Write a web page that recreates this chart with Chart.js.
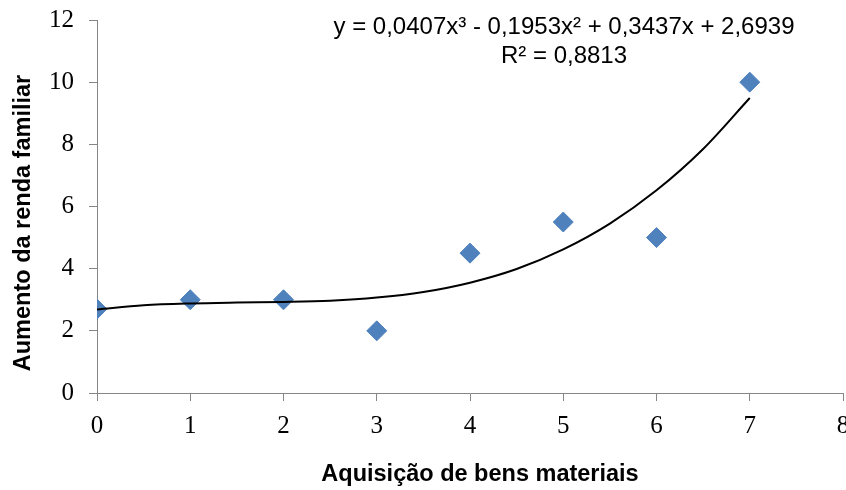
<!DOCTYPE html>
<html>
<head>
<meta charset="utf-8">
<script src="https://cdn.jsdelivr.net/npm/chart.js@4"></script>
<style>
  html, body { margin: 0; padding: 0; background: #fff; }
  #wrap { width: 846px; height: 490px; }
</style>
</head>
<body>
<div id="wrap"><canvas id="chart" width="846" height="490"></canvas></div>
<script>
// pontos observados
const bens = [0, 1, 2, 3, 4, 5, 6, 7];
const renda = [2.7, 3, 3, 2, 4.5, 5.5, 5, 10];

// linha de tendência (polinomial)
const trendX = [0, 0.5, 1, 1.5, 2, 2.5, 3, 3.5, 4, 4.5, 5, 5.5, 6, 6.5, 7];
const trendY = [2.69, 2.82, 2.88, 2.91, 2.93, 2.97, 3.07, 3.25, 3.55, 3.99, 4.62, 5.45, 6.52, 7.85, 9.49];

const equacao = ['y = 0,0407x³ - 0,1953x² + 0,3437x + 2,6939', 'R² = 0,8813'];
const tituloX = 'Aquisição de bens materiais';
const tituloY = 'Aumento da renda familiar';

const axisGray = '#868686';
const tickFont = { family: '"Liberation Serif", "Times New Roman", serif', size: 25 };

// equação da tendência e títulos dos eixos (posição igual ao Excel)
const textPlugin = {
    id: 'textos',
    afterDraw(chart) {
        const ctx = chart.ctx;
        ctx.save();
        ctx.fillStyle = '#000';
        ctx.textAlign = 'center';
        ctx.textBaseline = 'middle';

        ctx.font = '24px "Liberation Sans", Arial, sans-serif';
        ctx.fillText(equacao[0], 564, 27);
        ctx.fillText(equacao[1], 564, 56);

        ctx.font = 'bold 23.5px "Liberation Sans", Arial, sans-serif';
        ctx.fillText(tituloX, 480, 475);

        ctx.translate(24, 223);
        ctx.rotate(-Math.PI / 2);
        ctx.fillText(tituloY, 0, 0);
        ctx.restore();
    }
};

new Chart(document.getElementById('chart'), {
    type: 'scatter',
    data: {
        datasets: [{
            label: 'Tendência',
            type: 'line',
            data: trendX.map((x, i) => ({ x: x, y: trendY[i] })),
            borderColor: '#000',
            borderWidth: 2,
            pointRadius: 0,
            tension: 0.4,
            cubicInterpolationMode: 'monotone',
            fill: false
        }, {
            label: 'Renda',
            data: bens.map((x, i) => ({ x: x, y: renda[i] })),
            pointStyle: 'rectRot',
            pointRadius: 10,
            backgroundColor: '#4F81BD',
            borderColor: '#4F81BD',
            borderWidth: 1
        }]
    },
    options: {
        responsive: false,
        animation: false,
        layout: { autoPadding: false, padding: { top: 20, right: 3, left: 0, bottom: 0 } },
        plugins: {
            legend: { display: false },
            tooltip: { enabled: false }
        },
        scales: {
            x: {
                type: 'linear',
                min: 0,
                max: 8,
                ticks: { stepSize: 1, color: '#000', font: tickFont, padding: 10 },
                grid: { drawOnChartArea: false, drawTicks: true, tickLength: 8, color: axisGray },
                border: { display: true, color: axisGray, width: 1 },
                afterFit(scale) {
                    scale.height = 97;
                    scale.paddingLeft = 0;
                    scale.paddingRight = 0;
                }
            },
            y: {
                min: 0,
                max: 12,
                ticks: { stepSize: 2, color: '#000', font: tickFont, padding: 15 },
                grid: { drawOnChartArea: false, drawTicks: true, tickLength: 8, color: axisGray },
                border: { display: true, color: axisGray, width: 1 },
                afterFit(scale) {
                    scale.width = 97;
                    scale.paddingTop = 0;
                    scale.paddingBottom = 0;
                }
            }
        }
    },
    plugins: [textPlugin]
});
</script>
</body>
</html>
